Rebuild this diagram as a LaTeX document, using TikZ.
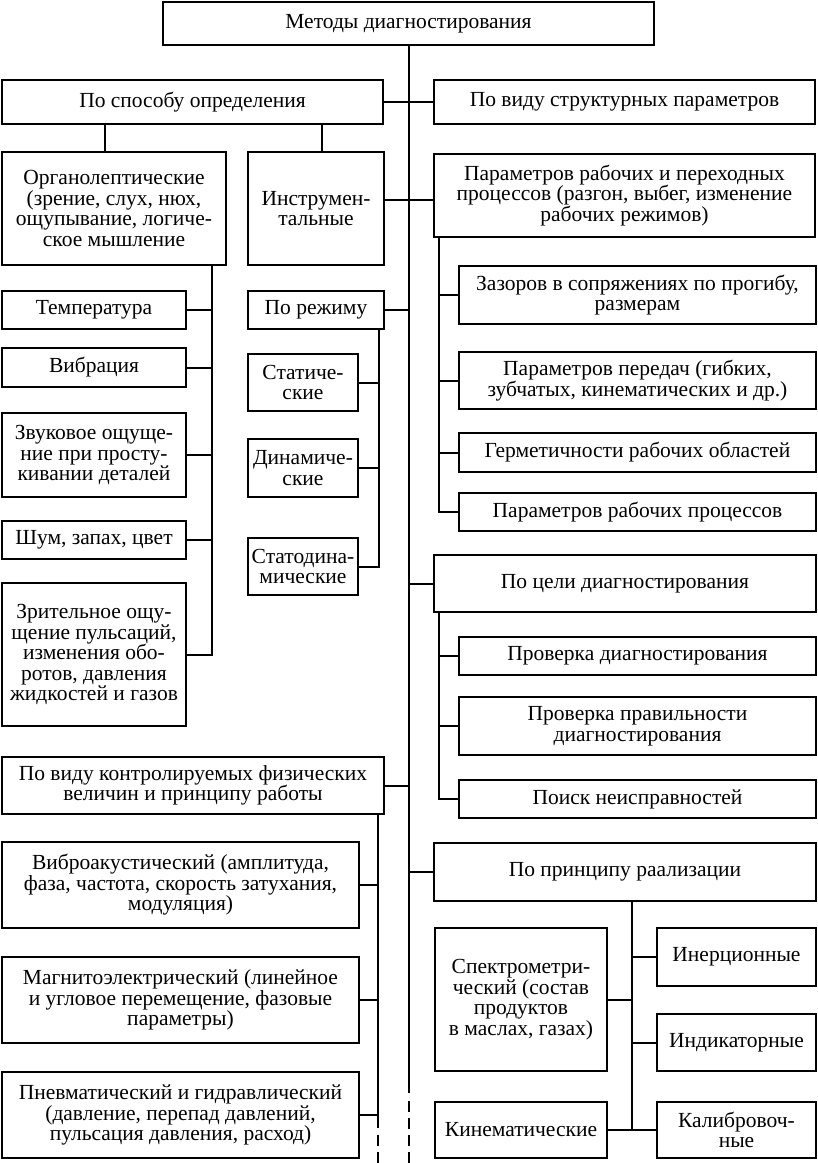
\documentclass[tikz,border=0pt]{standalone}
\usepackage{fontspec}
\setmainfont{Liberation Serif}
\usetikzlibrary{calc}
\tikzset{
    box/.style={draw, line width=2pt, align=center, inner sep=0pt,
        font=\fontsize{21.5}{20.5}\selectfont},
    link/.style={line width=2pt},
    cut/.style={link, dash pattern=on 11pt off 6pt},
}
\newcommand{\bx}[6]{% name, x, y, w, h, text
    \node[box, minimum width=#4pt, minimum height=#5pt] (#1) at (#2,#3) {#6};}

\begin{document}
\begin{tikzpicture}[x=1pt, y=-1pt]
            \useasboundingbox (0,0) rectangle (818,1163);
            \coordinate (bot) at (0,1163);
            \bx{top}{408.5}{23.5}{491}{43}{Методы диагностирования}
            \bx{sposob}{192.5}{102}{381}{44}{По способу определения}
            \bx{struct}{624.5}{102}{381}{44}{По виду структурных параметров}
            \bx{organ}{114}{208.5}{224}{113}{Органолептические\\(зрение, слух, нюх,\\ощупывание, логиче-\\ское мышление}
            \bx{instr}{316}{208.5}{136}{113}{Инструмен-\\тальные}
            \bx{param}{624.5}{195.5}{381}{83}{Параметров рабочих и переходных\\процессов (разгон, выбег, изменение\\рабочих режимов)}
            \bx{zazor}{637.5}{295}{357}{58}{Зазоров в сопряжениях по прогибу,\\размерам}
            \bx{pered}{637.5}{380.5}{357}{57}{Параметров передач (гибких,\\зубчатых, кинематических и др.)}
            \bx{germ}{637.5}{452.5}{357}{39}{Герметичности рабочих областей}
            \bx{prab}{637.5}{512}{357}{38}{Параметров рабочих процессов}
            \bx{temp}{94}{310}{184}{38}{Температура}
            \bx{vibr}{94}{367.5}{184}{39}{Вибрация}
            \bx{zvuk}{94}{455}{184}{84}{Звуковое ощуще-\\ние при просту-\\кивании деталей}
            \bx{shum}{94}{540}{184}{38}{Шум, запах, цвет}
            \bx{zrit}{94}{654.5}{184}{143}{Зрительное ощу-\\щение пульсаций,\\изменения обо-\\ротов, давления\\жидкостей и газов}
            \bx{rezhim}{316}{310}{136}{38}{По режиму}
            \bx{stat}{303}{382.5}{110}{57}{Статиче-\\ские}
            \bx{dinam}{303}{468}{110}{58}{Динамиче-\\ские}
            \bx{statdin}{303}{566.5}{110}{57}{Статодина-\\мические}
            \bx{cel}{625}{583.5}{382}{57}{По цели диагностирования}
            \bx{prov}{637.5}{656}{357}{38}{Проверка диагностирования}
            \bx{provpr}{637.5}{726}{357}{58}{Проверка правильности\\диагностирования}
            \bx{poisk}{637.5}{799}{357}{38}{Поиск неисправностей}
            \bx{princ}{625}{872}{382}{58}{По принципу раализации}
            \bx{spektr}{521}{999.5}{172}{143}{Спектрометри-\\ческий (состав\\продуктов\\в маслах, газах)}
            \bx{iner}{736.5}{957}{159}{58}{Инерционные}
            \bx{indik}{736.5}{1042.5}{159}{57}{Индикаторные}
            \bx{kalib}{736.5}{1130}{159}{56}{Калибровоч-\\ные}
            \bx{kinem}{521}{1130}{172}{56}{Кинематические}
            \bx{fiz}{193}{785.5}{382}{57}{По виду контролируемых физических\\величин и принципу работы}
            \bx{vibroak}{180.5}{885}{357}{86}{Виброакустический (амплитуда,\\фаза, частота, скорость затухания,\\модуляция)}
            \bx{magn}{180.5}{1000}{357}{86}{Магнитоэлектрический (линейное\\и угловое перемещение, фазовые\\параметры)}
            \bx{pnevm}{180.5}{1115}{357}{86}{Пневматический и гидравлический\\(давление, перепад давлений,\\пульсация давления, расход)}
            % main trunk
            \draw[link] (top.south) -- ($(top.south |- bot)+(0,-70)$);
            \draw[cut] ($(top.south |- bot)+(0,-62)$) -- (top.south |- bot);
            \draw[link] (sposob.east) -- (struct.west);
            \draw[link] ([xshift=-9pt]organ.north) -- ([xshift=-9pt]organ.north |- sposob.south);
            \draw[link] ([xshift=6pt]instr.north) -- ([xshift=6pt]instr.north |- sposob.south);
            \draw[link] ([yshift=-4.5pt]param.west) -- ([yshift=-4.5pt]param.west -| instr.east);
            \foreach \n in {rezhim,fiz}
                \draw[link] (\n.east) -- (\n.east -| top.south);
            \foreach \n in {cel,princ}
                \draw[link] (\n.west) -- (\n.west -| top.south);
            % branches
            \coordinate (obr) at ([xshift=-15pt]organ.south east);
            \coordinate (rbr) at ([xshift=-6pt]rezhim.south east);
            \coordinate (pbr) at ([xshift=6pt]param.south west);
            \coordinate (cbr) at ([xshift=6pt]cel.south west);
            \coordinate (prbr) at ([xshift=7pt]princ.south);
            \coordinate (fbr) at ([xshift=-7pt]fiz.south east);
            \foreach \a/\b in {obr/temp,obr/vibr,obr/zvuk,obr/shum,obr/zrit,rbr/stat,rbr/dinam,rbr/statdin,fbr/vibroak,fbr/magn,fbr/pnevm}
                \draw[link] (\a) |- (\b.east);
            \foreach \a/\b in {pbr/zazor,pbr/pered,pbr/germ,pbr/prab,cbr/prov,cbr/provpr,cbr/poisk,prbr/iner,prbr/indik,prbr/kalib}
                \draw[link] (\a) |- (\b.west);
            \foreach \n in {spektr,kinem}
                \draw[link] (\n.east) -- (\n.east -| prbr);
            \draw[link] (fbr |- pnevm.east) -- ($(fbr |- bot)+(0,-35)$);
            \draw[cut] ($(fbr |- bot)+(0,-28)$) -- (fbr |- bot);
        \end{tikzpicture}
\end{document}
